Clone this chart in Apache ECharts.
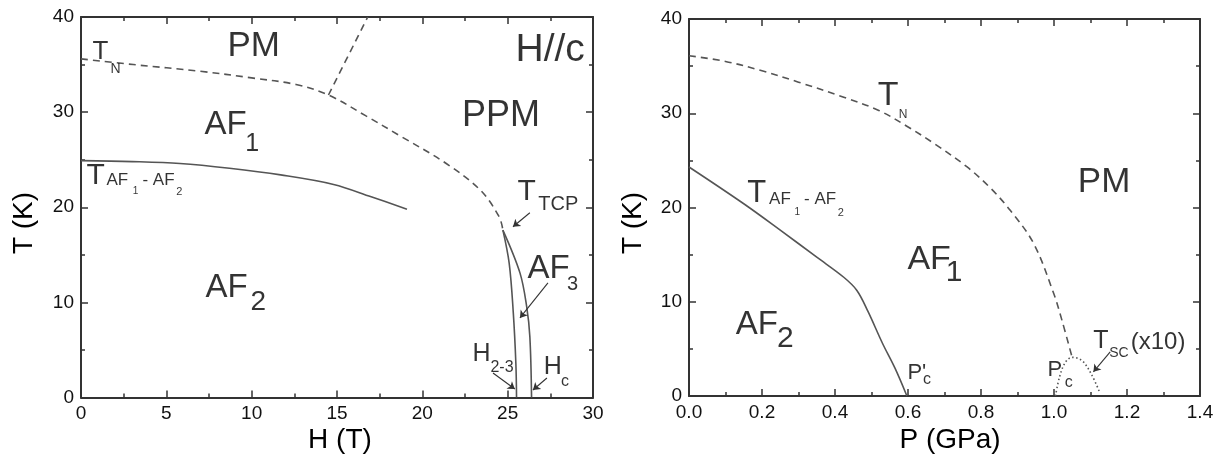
<!DOCTYPE html>
<html><head><meta charset="utf-8">
<script src="https://cdn.jsdelivr.net/npm/echarts@6/dist/echarts.min.js"></script>
<style>html,body{margin:0;padding:0;background:#fff}#c{width:1222px;height:459px}</style>
</head><body><div id="c"></div>
<script>
// ---------- DATA ----------
// Left panel: field H (T) vs temperature T (K), H//c
const fieldTickLabels = ['0','5','10','15','20','25','30'];
const tempTickLabels  = ['0','10','20','30','40'];
const leftTN     = [[0,35.6],[3.06,35.0],[6.97,34.3],[10,33.6],[12.6,32.9],[14.5,31.8],[16.7,29.6],[18.7,27.5],[21.4,24.6],[23.4,21.8],[24.5,19.0],[24.72,17.6]];
const leftPMPPM  = [[14.5,31.8],[16.8,40]];
const leftTAF    = [[0,24.9],[3,24.8],[5.8,24.6],[8.7,24.1],[11.7,23.4],[14.8,22.4],[17,21.1],[19.1,19.8]];
const leftH23    = [[24.72,17.6],[25.09,14.1],[25.33,8.9],[25.48,3.6],[25.52,0]];
const leftHc     = [[24.72,17.6],[25.72,13.1],[26.11,9.6],[26.30,6.4],[26.40,0]];
// Right panel: pressure P (GPa) vs temperature T (K)
const pressureTickLabels = ['0.0','0.2','0.4','0.6','0.8','1.0','1.2','1.4'];
const rightTN    = [[0,36.1],[0.1,35.5],[0.2,34.5],[0.3,33.3],[0.424,31.7],[0.52,30.3],[0.598,28.6],[0.675,26.7],[0.762,24.3],[0.825,22.1],[0.88,19.7],[0.944,16.2],[0.999,10.9],[1.022,8.0],[1.049,4.2]];
const rightTAF   = [[0,24.3],[0.15,20.4],[0.25,17.6],[0.351,14.7],[0.424,12.6],[0.46,11.2],[0.49,9.0],[0.53,5.6],[0.565,2.9],[0.597,0]];
const rightTsc   = [[1.004,0],[1.015,2.0],[1.03,3.5],[1.049,4.1],[1.065,4.0],[1.081,3.6],[1.104,2.2],[1.125,0.4]];

// ---------- ANNOTATIONS (text anchored in data units: left edge, vertical middle) ----------
const leftText = [
  ['PM',8.55,36.95,35],['T',0.64,36.3,26],['N',1.70,34.47,14],
  ['AF',7.21,28.68,33],['1',9.6,26.68,25],
  ['T',0.3,23.3,30],['AF',1.46,22.79,17],['1',3.0,21.68,10],['- AF',3.57,22.79,17],['2',5.55,21.63,11],
  ['PPM',22.30,29.58,36],['H//c',25.43,36.47,39],
  ['T',25.54,21.68,30],['TCP',26.77,20.32,20],
  ['AF',26.13,13.47,33],['3',28.45,11.84,20],
  ['AF',7.26,11.47,33],['2',9.9,10.0,28],
  ['H',22.91,4.58,25],['2-3',23.96,3.16,16],
  ['H',27.08,3.16,25],['c',28.1,1.69,16]
];
const leftArrows = [
  [[26.30,19.42],[25.31,17.95]],
  [[27.36,12.05],[25.72,8.37]],
  [[24.14,2.58],[25.42,0.89]],
  [[27.30,2.05],[26.48,0.79]]
];
const rightText = [
  ['T',0.516,31.85,34],['N',0.573,29.89,12],
  ['T',0.158,21.45,31],['AF',0.218,20.85,17],['1',0.288,19.52,10],['- AF',0.314,20.85,17],['2',0.406,19.47,11],
  ['AF',0.597,14.5,34],['1',0.702,13.07,30],
  ['PM',1.064,22.7,35],
  ['AF',0.127,7.51,33],['2',0.240,6.03,30],
  ["P'",0.597,2.40,22],['c',0.640,1.72,16],
  ['P',0.981,2.75,22],['c',1.028,1.38,16],
  ['T',1.106,5.84,25],['SC',1.150,4.52,14],['(x10)',1.209,5.71,24]
];
const rightArrows = [
  [[1.154,4.69],[1.108,2.57]]
];

// ---------- CHART ----------
const FONT = 'Liberation Sans, Arial, sans-serif';
const AX = '#333';
const LINE = '#555';

function axis(grid, pos, min, max, interval, labels, showLabels) {
  return {
    type: 'value', gridIndex: grid, position: pos, min: min, max: max, interval: interval,
    axisLine: { show: true, onZero: false, lineStyle: { color: AX, width: 2 } },
    axisTick: { show: true, inside: true, length: 7, lineStyle: { color: AX, width: 1.5 } },
    minorTick: { show: true, splitNumber: 2, length: 4, lineStyle: { color: AX, width: 1.5 } },
    splitLine: { show: false }, minorSplitLine: { show: false },
    axisLabel: {
      show: showLabels, fontSize: 19, color: '#111', fontFamily: FONT, margin: 7,
      showMinLabel: true, showMaxLabel: true, hideOverlap: false,
      formatter: function (v) {
        const i = Math.round((v - min) / interval);
        return labels[i] !== undefined ? labels[i] : '';
      }
    },
    axisPointer: { show: false }
  };
}

function curve(data, xi, yi, type) {
  return {
    type: 'line', xAxisIndex: xi, yAxisIndex: yi, data: data,
    showSymbol: false, symbol: 'none', smooth: 0.35, silent: true,
    lineStyle: { color: LINE, width: 1.6, type: type },
    z: 3
  };
}

function textSeries(items, xi, yi) {
  return {
    type: 'scatter', xAxisIndex: xi, yAxisIndex: yi, silent: true,
    symbolSize: 1, itemStyle: { color: 'rgba(0,0,0,0)' },
    label: { show: true, position: 'right', distance: 0, formatter: '{b}', color: '#000', fontFamily: FONT },
    labelLayout: { hideOverlap: false },
    data: items.map(t => ({ name: t[0], value: [t[1], t[2]], label: { fontSize: t[3] } })),
    z: 5
  };
}

function arrowSeries(items, xi, yi) {
  return {
    type: 'lines', coordinateSystem: 'cartesian2d', xAxisIndex: xi, yAxisIndex: yi, silent: true,
    symbol: ['none', 'arrow'], symbolSize: 7,
    lineStyle: { color: '#333', width: 1.1, opacity: 1 },
    data: items.map(c => ({ coords: c })),
    z: 4
  };
}

const chart = echarts.init(document.getElementById('c'), null, { renderer: 'canvas' });
chart.setOption({
  animation: false,
  backgroundColor: '#fff',
  grid: [
    { left: 81, top: 17, width: 512, height: 380.5, containLabel: false },
    { left: 689, top: 19, width: 511, height: 377, containLabel: false }
  ],
  xAxis: [
    axis(0, 'bottom', 0, 30, 5, fieldTickLabels, true),
    axis(0, 'top', 0, 30, 5, fieldTickLabels, false),
    axis(1, 'bottom', 0, 1.4, 0.2, pressureTickLabels, true),
    axis(1, 'top', 0, 1.4, 0.2, pressureTickLabels, false)
  ],
  yAxis: [
    axis(0, 'left', 0, 40, 10, tempTickLabels, true),
    axis(0, 'right', 0, 40, 10, tempTickLabels, false),
    axis(1, 'left', 0, 40, 10, tempTickLabels, true),
    axis(1, 'right', 0, 40, 10, tempTickLabels, false)
  ],
  graphic: [
    { type: 'text', x: 24, y: 223, rotation: Math.PI / 2, style: { text: 'T (K)', font: '28px ' + FONT, fill: '#000', align: 'center', verticalAlign: 'middle' } },
    { type: 'text', x: 633, y: 223, rotation: Math.PI / 2, style: { text: 'T (K)', font: '28px ' + FONT, fill: '#000', align: 'center', verticalAlign: 'middle' } },
    { type: 'text', x: 340, y: 440, style: { text: 'H (T)', font: '28px ' + FONT, fill: '#000', align: 'center', verticalAlign: 'middle' } },
    { type: 'text', x: 950, y: 440, style: { text: 'P (GPa)', font: '28px ' + FONT, fill: '#000', align: 'center', verticalAlign: 'middle' } }
  ],
  series: [
    curve(leftTN, 0, 0, [7, 5]),
    curve(leftPMPPM, 0, 0, [7, 5]),
    curve(leftTAF, 0, 0, 'solid'),
    curve(leftH23, 0, 0, 'solid'),
    curve(leftHc, 0, 0, 'solid'),
    curve(rightTN, 2, 2, [7, 5]),
    curve(rightTAF, 2, 2, 'solid'),
    curve(rightTsc, 2, 2, [1.5, 2.5]),
    textSeries(leftText, 0, 0),
    textSeries(rightText, 2, 2),
    arrowSeries(leftArrows, 0, 0),
    arrowSeries(rightArrows, 2, 2)
  ]
});
</script>
</body></html>
